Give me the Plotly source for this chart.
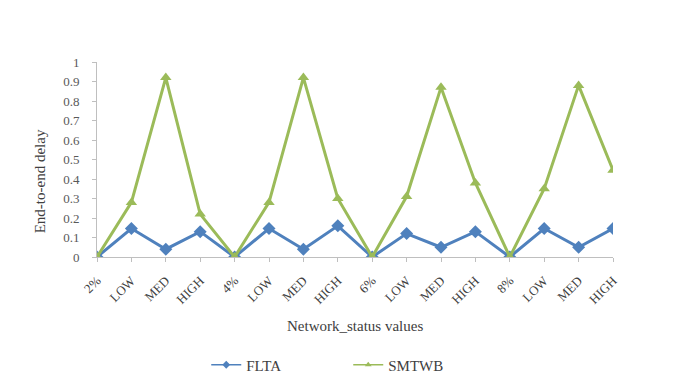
import plotly.graph_objects as go

# Category labels along the x axis (four loss levels, each with LOW/MED/HIGH status)
categories = ["2%", "LOW", "MED", "HIGH",
              "4%", "LOW", "MED", "HIGH",
              "6%", "LOW", "MED", "HIGH",
              "8%", "LOW", "MED", "HIGH"]

# End-to-end delay values per protocol
flta = [0.0, 0.146, 0.04, 0.13,
        0.0, 0.146, 0.04, 0.16,
        0.0, 0.12, 0.05, 0.13,
        0.0, 0.146, 0.05, 0.146]
smtwb = [0.0, 0.28, 0.92, 0.22,
         0.0, 0.28, 0.92, 0.30,
         0.0, 0.31, 0.87, 0.38,
         0.0, 0.35, 0.88, 0.445]

y_ticks = [0, 0.1, 0.2, 0.3, 0.4, 0.5, 0.6, 0.7, 0.8, 0.9, 1]
y_labels = ["0", "0.1", "0.2", "0.3", "0.4", "0.5", "0.6", "0.7", "0.8", "0.9", "1"]

BLUE = "#4F81BD"
GREEN = "#9BBB59"
FONT = "Liberation Serif"
AXIS = "#BFBFBF"

x = list(range(len(categories)))

fig = go.Figure()
# data series (legend handled by the slim key traces below)
fig.add_trace(go.Scatter(
    x=x, y=flta, name="FLTA", mode="lines+markers", showlegend=False,
    line=dict(color=BLUE, width=3),
    marker=dict(symbol="diamond", size=10, color=BLUE),
))
fig.add_trace(go.Scatter(
    x=x, y=smtwb, name="SMTWB", mode="lines+markers", showlegend=False,
    line=dict(color=GREEN, width=3),
    marker=dict(symbol="triangle-up", size=10, color=GREEN),
))
# legend keys: thin line with a small marker
for name, color, sym in [("FLTA", BLUE, "diamond"), ("SMTWB", GREEN, "triangle-up")]:
    fig.add_trace(go.Scatter(
        x=[None], y=[None], name=name, mode="lines+markers",
        line=dict(color=color, width=1.5),
        marker=dict(symbol=sym, size=6, color=color),
    ))

fig.update_layout(
    width=674, height=385, autosize=False,
    margin=dict(l=97, r=61, t=62, b=128),
    paper_bgcolor="white", plot_bgcolor="white",
    font=dict(family=FONT, size=14, color="#404040"),
    showlegend=True,
    legend=dict(
        orientation="h", xref="container", yref="container",
        x=0.306, y=0.052, xanchor="left", yanchor="middle",
        entrywidth=97, entrywidthmode="pixels",
        font=dict(family=FONT, size=15, color="#404040"),
        bgcolor="rgba(0,0,0,0)",
    ),
    annotations=[
        dict(text="Network_status values", xref="paper", yref="paper",
             x=0.5, y=(256.5 - 325) / 194.5, xanchor="center", yanchor="middle",
             showarrow=False, font=dict(family=FONT, size=15, color="#404040")),
        dict(text="End-to-end delay", xref="paper", yref="paper",
             x=(40 - 97) / 516, y=(256.5 - 181) / 194.5, textangle=-90,
             xanchor="center", yanchor="middle",
             showarrow=False, font=dict(family=FONT, size=15, color="#404040")),
    ],
)

fig.update_xaxes(
    range=[0, len(categories) - 1],
    tickmode="array", tickvals=x, ticktext=categories,
    tickangle=-45, ticks="outside", ticklen=4, tickcolor=AXIS,
    ticklabelstandoff=6,
    showline=True, linecolor=AXIS, linewidth=1,
    showgrid=False, zeroline=False,
    tickfont=dict(family=FONT, size=13, color="#404040"),
)
fig.update_yaxes(
    range=[0, 1],
    tickmode="array", tickvals=y_ticks, ticktext=y_labels,
    ticks="outside", ticklen=4, tickcolor=AXIS,
    ticklabelstandoff=10,
    showline=True, linecolor=AXIS, linewidth=1,
    showgrid=False, zeroline=False,
    tickfont=dict(family=FONT, size=13, color="#595959"),
)

fig.write_html("out.html")
